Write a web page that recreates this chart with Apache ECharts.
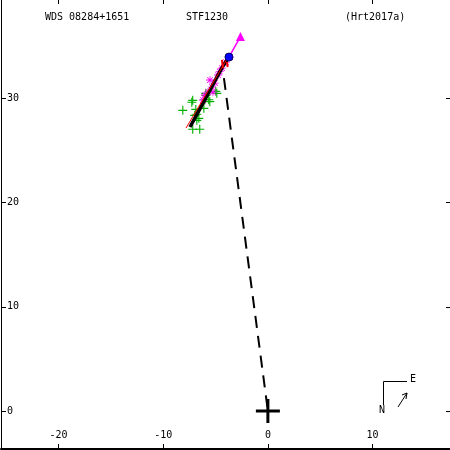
<!DOCTYPE html>
<html><head><meta charset="utf-8">
<script src="https://cdn.jsdelivr.net/npm/echarts@6/dist/echarts.min.js"></script>
<style>html,body{margin:0;padding:0;background:#fff}#c{width:450px;height:450px}</style>
</head><body><div id="c"></div>
<script>
// ---- data ----
const titleTexts = ['WDS 08284+1651', 'STF1230', '(Hrt2017a)'];
const xTicks = [-20, -10, 0, 10];
const yTicks = [0, 10, 20, 30];
const greenObs = [[-8.13,28.86],[-7.18,29.82],[-7.27,29.63],[-6.89,28.95],[-6.79,28.48],[-5.93,30.30],
  [-6.12,29.05],[-7.18,27.04],[-6.51,27.04],[-6.99,28.38],[-6.79,27.90],[-6.03,29.87],[-5.65,29.87],
  [-5.93,30.49],[-5.55,29.69],[-4.88,30.49],[-4.98,30.68],[-6.60,28.09]];
const magentaObs = [[-5.53,31.77],[-4.39,32.92],[-6.01,30.33],[-4.77,32.25],[-6.20,29.85],[-5.06,31.48],
  [-5.25,30.61],[-5.34,31.09],[-4.01,33.49],[-3.63,33.97],[-5.73,30.61],[-4.6,32.6]];
const orbitArc = [[-7.44,27.26],[-6.6,28.8],[-5.8,30.3],[-4.95,31.9],[-4.3,33.1],[-3.72,33.97]];
const redLine = [[-7.82,27.16],[-3.9,33.8]];
const redOC = [[[-4.39,33.7],[-4.29,32.9]],[[-3.9,33.5],[-3.85,33.0]]];
const lastPoint = [-3.72,33.97];
const futurePoint = [-2.62,35.94];
const nodeLine = [[-4.2,31.96],[0,0]];
const primary = [0,0];

const plusPath = 'path://M7,0h2v16h-2zM0,7h16v2h-16z';
const starPath = 'path://M4.5,0h1v10h-1zM0,4.5h10v1h-10zM1.2,1.9l0.7,-0.7l7,7l-0.7,0.7zM8.1,1.2l0.7,0.7l-7,7l-0.7,-0.7z';
const font = 'DejaVu Sans Mono';

const chart = echarts.init(document.getElementById('c'), null, {renderer:'canvas'});
const xBase = {type:'value', min:-25.5, max:17.4, splitLine:{show:false}};
const yBase = {type:'value', min:-3.65, max:39.45, splitLine:{show:false}};
chart.setOption({
  animation:false,
  backgroundColor:'#fff',
  grid:{left:1, top:0, right:0, bottom:1, containLabel:false},
  xAxis:[
    Object.assign({}, xBase, {position:'bottom',
      axisLine:{show:true, onZero:false, lineStyle:{color:'#000', width:2}},
      axisTick:{show:true, inside:true, length:5, customValues:xTicks, lineStyle:{color:'#000'}},
      axisLabel:{show:true, inside:true, margin:9, customValues:xTicks, color:'#000', fontFamily:font, fontSize:10}}),
    Object.assign({}, xBase, {position:'top',
      axisLine:{show:false, onZero:false},
      axisTick:{show:true, inside:true, length:4, customValues:xTicks, lineStyle:{color:'#000'}},
      axisLabel:{show:false}})
  ],
  yAxis:[
    Object.assign({}, yBase, {position:'left',
      axisLine:{show:true, onZero:false, lineStyle:{color:'#000', width:1}},
      axisTick:{show:true, inside:true, length:5, customValues:yTicks, lineStyle:{color:'#000'}},
      axisLabel:{show:true, inside:true, margin:6, customValues:yTicks, color:'#000', fontFamily:font, fontSize:10}}),
    Object.assign({}, yBase, {position:'right',
      axisLine:{show:false, onZero:false},
      axisTick:{show:true, inside:true, length:4, customValues:yTicks, lineStyle:{color:'#000'}},
      axisLabel:{show:false}})
  ],
  series:[
    {type:'line', data:nodeLine, symbol:'none', lineStyle:{color:'#000', width:2, type:[12,8]}, z:2},
    {type:'scatter', data:greenObs, symbol:plusPath, symbolSize:9, itemStyle:{color:'#00b000', opacity:1}, z:3},
    {type:'scatter', data:magentaObs, symbol:starPath, symbolSize:8, itemStyle:{color:'#ff00ff', opacity:1}, z:4},
    {type:'line', data:orbitArc, symbol:'none', lineStyle:{color:'#000', width:3.5}, z:5},
    {type:'line', data:redLine, symbol:'none', lineStyle:{color:'#ff0000', width:1}, z:6},
    {type:'line', data:redOC[0], symbol:'none', lineStyle:{color:'#ff0000', width:2}, z:6},
    {type:'line', data:redOC[1], symbol:'none', lineStyle:{color:'#ff0000', width:2}, z:6},
    {type:'line', data:[lastPoint, futurePoint], symbol:'none', lineStyle:{color:'#ff00ff', width:1.5}, z:7},
    {type:'scatter', data:[futurePoint], symbol:'triangle', symbolSize:9, itemStyle:{color:'#ff00ff', opacity:1}, z:8},
    {type:'scatter', data:[lastPoint], symbol:'circle', symbolSize:8, itemStyle:{color:'#0000ff', borderColor:'#000060', borderWidth:1, opacity:1}, z:8},
    {type:'scatter', data:[primary], symbol:plusPath, symbolSize:24, itemStyle:{color:'#000', opacity:1}, z:9}
  ],
  graphic:[
    {type:'text', left:45, top:12, style:{text:titleTexts[0], font:'10px "'+font+'"', fill:'#000'}},
    {type:'text', left:186, top:12, style:{text:titleTexts[1], font:'10px "'+font+'"', fill:'#000'}},
    {type:'text', left:345, top:12, style:{text:titleTexts[2], font:'10px "'+font+'"', fill:'#000'}},
    {type:'polyline', shape:{points:[[383.5,405],[383.5,381.5],[407,381.5]]}, style:{stroke:'#000', lineWidth:1, fill:null}},
    {type:'text', x:410, y:374, style:{text:'E', font:'10px "'+font+'"', fill:'#000'}},
    {type:'text', x:379, y:405, style:{text:'N', font:'10px "'+font+'"', fill:'#000'}},
    {type:'polyline', shape:{points:[[398,407],[407,393]]}, style:{stroke:'#000', lineWidth:1}},
    {type:'polyline', shape:{points:[[402,395],[407,393],[406,399]]}, style:{stroke:'#000', lineWidth:1, fill:null}}
  ]
});
</script></body></html>
